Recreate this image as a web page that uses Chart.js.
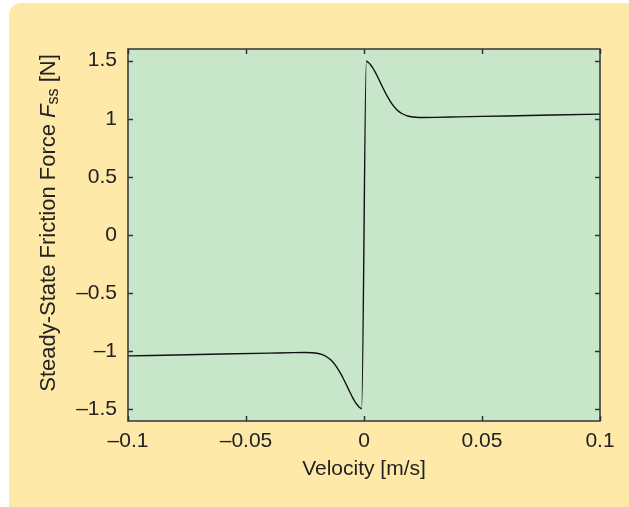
<!DOCTYPE html>
<html>
<head>
<meta charset="utf-8">
<script src="https://cdn.jsdelivr.net/npm/chart.js@4.4.1/dist/chart.umd.min.js"></script>
<style>
  html, body { margin: 0; padding: 0; background: #ffffff; }
  #wrap { position: relative; width: 629px; height: 507px; overflow: hidden; }
  #panel {
    position: absolute; left: 9px; top: 3px; width: 640px; height: 520px;
    background: #fee9a8; border-radius: 12px;
  }
  #c { position: absolute; left: 0; top: 0; }
</style>
</head>
<body>
<div id="wrap">
  <div id="panel"></div>
  <canvas id="c" width="629" height="507"></canvas>
</div>
<script>
// Velocity [m/s]
const velocity = [
  -0.1, -0.08, -0.06, -0.04, -0.03, -0.025, -0.022, -0.02, -0.018, -0.016,
  -0.014, -0.012, -0.010, -0.009, -0.008, -0.007, -0.006, -0.005, -0.004,
  -0.003, -0.002, -0.001,
  0.001, 0.002, 0.003, 0.004, 0.005, 0.006, 0.007, 0.008, 0.009, 0.010,
  0.012, 0.014, 0.016, 0.018, 0.020, 0.022, 0.025, 0.03, 0.04, 0.06, 0.08, 0.1
];
// Steady-state friction force [N]
const force = [
  -1.04, -1.032, -1.024, -1.016, -1.012, -1.011, -1.013, -1.017, -1.027, -1.045,
  -1.076, -1.123, -1.188, -1.226, -1.267, -1.309, -1.351, -1.391, -1.428,
  -1.458, -1.481, -1.495,
  1.495, 1.481, 1.458, 1.428, 1.391, 1.351, 1.309, 1.267, 1.226, 1.188,
  1.123, 1.076, 1.045, 1.027, 1.017, 1.013, 1.011, 1.012, 1.016, 1.024, 1.032, 1.04
];
const xTicks = [-0.1, -0.05, 0, 0.05, 0.1];
const yTicks = [-1.5, -1, -0.5, 0, 0.5, 1, 1.5];

const FONT = '"Liberation Sans", Arial, Helvetica, sans-serif';
const TEXT = '#222222';

function fmt(v) {
  const s = String(Math.round(v * 1000) / 1000);
  return s.replace('-', '\u2013');
}

// green plot area, inward ticks, frame and axis titles
const framePlugin = {
  id: 'frame',
  beforeDatasetsDraw(chart) {
    const { ctx, chartArea: a } = chart;
    ctx.save();
    ctx.fillStyle = '#c8e6ca';
    ctx.fillRect(a.left, a.top, a.right - a.left, a.bottom - a.top);
    ctx.restore();
  },
  afterDraw(chart) {
    const { ctx, chartArea: a, scales } = chart;
    ctx.save();
    ctx.strokeStyle = '#333333';
    ctx.lineWidth = 1.5;
    const len = 5;
    xTicks.forEach(t => {
      const px = Math.round(scales.x.getPixelForValue(t)) + 0.5;
      ctx.beginPath();
      ctx.moveTo(px, a.bottom); ctx.lineTo(px, a.bottom - len);
      ctx.moveTo(px, a.top); ctx.lineTo(px, a.top + len);
      ctx.stroke();
    });
    yTicks.forEach(t => {
      const py = Math.round(scales.y.getPixelForValue(t)) + 0.5;
      ctx.beginPath();
      ctx.moveTo(a.left, py); ctx.lineTo(a.left + len, py);
      ctx.moveTo(a.right, py); ctx.lineTo(a.right - len, py);
      ctx.stroke();
    });
    ctx.strokeRect(a.left, a.top, a.right - a.left, a.bottom - a.top);

    ctx.fillStyle = TEXT;
    ctx.font = '21px ' + FONT;
    ctx.textAlign = 'center';
    ctx.textBaseline = 'middle';
    ctx.fillText('Velocity [m/s]', (a.left + a.right) / 2, 469);

    // y title: Steady-State Friction Force F_ss [N]
    const parts = [
      { t: 'Steady-State Friction Force ', f: '22px ' + FONT, dy: 0 },
      { t: 'F', f: 'italic 22px ' + FONT, dy: 0 },
      { t: 'ss', f: '16px ' + FONT, dy: 5 },
      { t: ' [N]', f: '22px ' + FONT, dy: 0 }
    ];
    let total = 0;
    parts.forEach(p => { ctx.font = p.f; p.w = ctx.measureText(p.t).width; total += p.w; });
    ctx.translate(49, 223);
    ctx.rotate(-Math.PI / 2);
    ctx.textAlign = 'left';
    let x = -total / 2;
    parts.forEach(p => {
      ctx.font = p.f;
      ctx.fillText(p.t, x, p.dy);
      x += p.w;
    });
    ctx.restore();
  }
};

new Chart(document.getElementById('c'), {
  type: 'line',
  data: {
    labels: velocity,
    datasets: [{
      data: velocity.map((v, i) => ({ x: v, y: force[i] })),
      borderColor: '#111111',
      borderWidth: 1.4,
      pointRadius: 0,
      cubicInterpolationMode: 'monotone',
      fill: false
    }]
  },
  options: {
    responsive: false,
    animation: false,
    layout: { padding: { left: 0, top: 49, right: 29, bottom: 0 } },
    plugins: { legend: { display: false }, tooltip: { enabled: false } },
    scales: {
      x: {
        type: 'linear',
        min: -0.1, max: 0.1,
        afterFit: s => { s.height = 86; },
        afterBuildTicks: s => { s.ticks = xTicks.map(v => ({ value: v })); },
        grid: { display: false, drawTicks: false },
        border: { display: false },
        ticks: {
          color: TEXT, padding: 8,
          font: { family: FONT, size: 21 },
          maxRotation: 0,
          callback: v => fmt(v)
        }
      },
      y: {
        min: -1.6, max: 1.6,
        afterFit: s => { s.width = 128; },
        afterBuildTicks: s => { s.ticks = yTicks.map(v => ({ value: v })); },
        grid: { display: false, drawTicks: false },
        border: { display: false },
        ticks: {
          color: TEXT, padding: 11,
          font: { family: FONT, size: 21 },
          callback: v => fmt(v)
        }
      }
    }
  },
  plugins: [framePlugin]
});
</script>
</body>
</html>
